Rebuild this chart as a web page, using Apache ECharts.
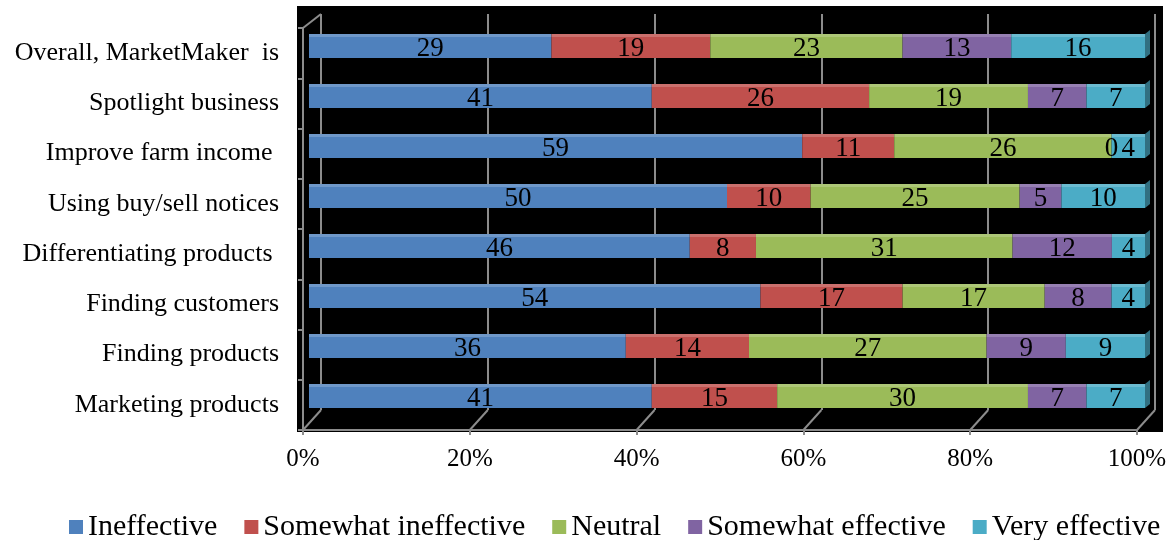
<!DOCTYPE html>
<html>
<head>
<meta charset="utf-8">
<script src="https://cdn.jsdelivr.net/npm/echarts@6/dist/echarts.min.js"></script>
<style>
  html, body { margin: 0; padding: 0; background: #fff; }
  #chart { width: 1170px; height: 540px; }
</style>
</head>
<body>
<div id="chart"></div>
<script>
// Survey items, listed top to bottom
const categories = [
  "Overall, MarketMaker  is",
  "Spotlight business",
  "Improve farm income ",
  "Using buy/sell notices",
  "Differentiating products ",
  "Finding customers",
  "Finding products",
  "Marketing products"
];

const seriesNames = ["Ineffective", "Somewhat ineffective", "Neutral", "Somewhat effective", "Very effective"];

// Response counts per item (same order as categories)
const ineffective         = [29, 41, 59, 50, 46, 54, 36, 41];
const somewhatIneffective = [19, 26, 11, 10,  8, 17, 14, 15];
const neutral             = [23, 19, 26, 25, 31, 17, 27, 30];
const somewhatEffective   = [13,  7,  0,  5, 12,  8,  9,  7];
const veryEffective       = [16,  7,  4, 10,  4,  4,  9,  7];

const percentTicks = [0, 20, 40, 60, 80, 100];

const rows = [ineffective, somewhatIneffective, neutral, somewhatEffective, veryEffective];
const palette = ['#4F81BD', '#C0504D', '#9BBB59', '#8064A2', '#4BACC6'];
const totals = categories.map((_, i) => rows.reduce((s, r) => s + r[i], 0));

const FONT = "'Liberation Serif', 'Times New Roman', serif";
const AXIS_GRAY = '#8c8c8c';
const DEPTH_X = 18, DEPTH_Y = 20;

function shade(hex, amt) {
  const n = parseInt(hex.slice(1), 16);
  const ch = [(n >> 16) & 255, (n >> 8) & 255, n & 255].map(c =>
    Math.round(amt >= 0 ? c + (255 - c) * amt : c * (1 + amt)));
  return 'rgb(' + ch.join(',') + ')';
}

function barFill(base) {
  const top = shade(base, 0.18);
  return {
    type: 'linear', x: 0, y: 0, x2: 0, y2: 1,
    colorStops: [
      { offset: 0, color: top }, { offset: 0.13, color: top },
      { offset: 0.13, color: base }, { offset: 1, color: base }
    ]
  };
}

const barSeries = rows.map((vals, si) => ({
  name: seriesNames[si],
  type: 'bar',
  stack: 'total',
  xAxisIndex: 3,
  yAxisIndex: 3,
  barWidth: 24,
  z: 3,
  data: vals.map((v, i) => v / totals[i] * 100),
  itemStyle: { color: barFill(palette[si]) },
  label: {
    show: true,
    position: 'inside',
    offset: [0, 3],
    color: '#000',
    fontFamily: FONT,
    fontSize: 27,
    formatter: p => String(rows[si][p.dataIndex])
  }
}));

// Right-hand end face of each stacked bar
const endFaces = {
  type: 'custom',
  xAxisIndex: 3,
  yAxisIndex: 3,
  silent: true,
  z: 2,
  data: categories.map((c, i) => [100, i]),
  renderItem: (params, api) => {
    const p = api.coord([api.value(0), api.value(1)]);
    const h = 24;
    return {
      type: 'polygon',
      shape: { points: [[p[0], p[1] - h / 2], [p[0] + 5, p[1] - h / 2 - 4], [p[0] + 5, p[1] + h / 2 - 4], [p[0], p[1] + h / 2]] },
      style: { fill: shade(palette[4], -0.35) }
    };
  }
};

// Depth edges joining the front axis to the back wall
const depthEdges = {
  type: 'custom',
  xAxisIndex: 2,
  yAxisIndex: 2,
  silent: true,
  z: 1,
  data: percentTicks.map(v => [v, 0]),
  renderItem: (params, api) => {
    const cs = params.coordSys;
    const x = api.coord([api.value(0), 0])[0];
    const yb = cs.y + cs.height;
    const style = { stroke: AXIS_GRAY, lineWidth: 2 };
    const children = [{
      type: 'line',
      shape: { x1: x, y1: yb, x2: x + DEPTH_X, y2: yb - DEPTH_Y },
      style
    }];
    if (params.dataIndex === 0) {
      children.push({
        type: 'line',
        shape: { x1: cs.x, y1: cs.y, x2: cs.x + DEPTH_X, y2: cs.y - 14 },
        style
      });
    }
    return { type: 'group', children };
  }
};

const chart = echarts.init(document.getElementById('chart'), null, { renderer: 'canvas' });
chart.setOption({
  backgroundColor: '#fff',
  animation: false,
  grid: [
    { left: 297, right: 7, top: 6, bottom: 108, show: true, backgroundColor: '#000', borderWidth: 0, z: 0 },
    { left: 321, right: 15, top: 14, bottom: 130 },
    { left: 303, right: 33, top: 28, bottom: 110 },
    { left: 309, right: 25, top: 21, bottom: 119 }
  ],
  xAxis: [
    { gridIndex: 0, type: 'value', show: false, min: 0, max: 1 },
    {
      gridIndex: 1, type: 'value', min: 0, max: 100, interval: 20,
      axisLine: { show: false }, axisTick: { show: false }, axisLabel: { show: false },
      splitLine: { show: true, lineStyle: { color: AXIS_GRAY, width: 2 } }
    },
    {
      gridIndex: 2, type: 'value', min: 0, max: 100, interval: 20,
      axisLine: { show: true, lineStyle: { color: AXIS_GRAY, width: 2 } },
      axisTick: { show: true, length: 5, lineStyle: { color: AXIS_GRAY, width: 2 } },
      axisLabel: { margin: 17, fontSize: 25, color: '#000', fontFamily: FONT, formatter: v => v + '%' },
      splitLine: { show: false }
    },
    { gridIndex: 3, type: 'value', min: 0, max: 100, show: false }
  ],
  yAxis: [
    { gridIndex: 0, type: 'value', show: false, min: 0, max: 1 },
    { gridIndex: 1, type: 'category', data: categories, show: false },
    {
      gridIndex: 2, type: 'category', data: categories, inverse: true,
      axisLine: { show: true, lineStyle: { color: AXIS_GRAY, width: 2 } },
      axisTick: { show: true, length: 5, lineStyle: { color: AXIS_GRAY, width: 2 } },
      axisLabel: { show: true, margin: 24, fontSize: 26, color: '#000', fontFamily: FONT },
      splitLine: { show: false }
    },
    {
      gridIndex: 3, type: 'category', data: categories, inverse: true,
      axisLine: { show: false }, axisTick: { show: false }, axisLabel: { show: false }
    }
  ],
  legend: {
    left: 64,
    top: 507,
    icon: 'rect',
    itemWidth: 14,
    itemHeight: 14,
    itemGap: 27,
    textStyle: { fontSize: 30, color: '#000', fontFamily: FONT },
    data: seriesNames.map((n, i) => ({ name: n, itemStyle: { color: palette[i] } }))
  },
  series: [depthEdges, endFaces, ...barSeries]
});
</script>
</body>
</html>
